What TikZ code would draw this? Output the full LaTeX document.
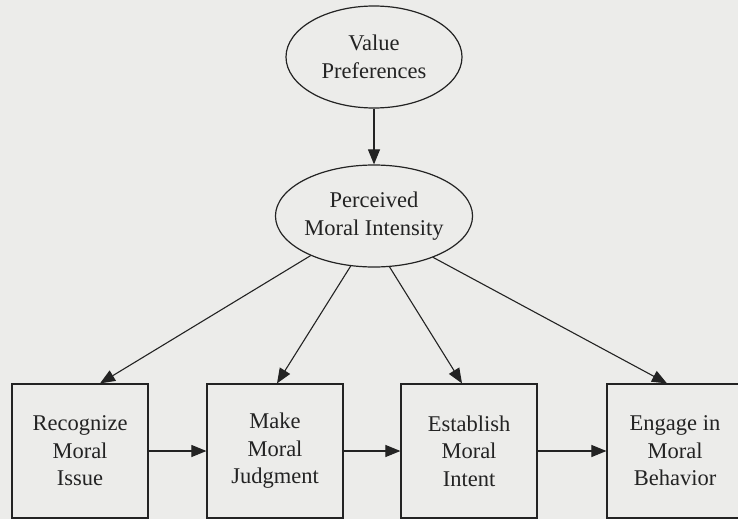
\documentclass[tikz,border=0pt]{standalone}
\usepackage{fontspec}
\setmainfont{Liberation Serif}
\usetikzlibrary{shapes.geometric,arrows.meta,calc}
\definecolor{bgpaper}{RGB}{236,236,234}
\definecolor{ink}{RGB}{35,35,35}
\begin{document}
\begin{tikzpicture}[x=1pt,y=-1pt,
  every node/.style={font=\fontsize{22.5}{27.5}\selectfont, text=ink, align=center},
  oval/.style={draw=ink, line width=1.2pt, ellipse, inner sep=0pt},
  stagebox/.style={draw=ink, line width=1.2pt, rectangle, minimum width=136pt, minimum height=134pt, inner sep=0pt},
  link/.style={draw=ink, line width=1.1pt, -{Triangle[length=15pt,width=12pt]}}
]
\fill[bgpaper] (0,0) rectangle (738,519);
\useasboundingbox (0,0) rectangle (738,519);
\clip (0,0) rectangle (738,519);

\node[oval, minimum width=176pt, minimum height=102pt] (vp) at (374,57) {Value\\Preferences};
\node[oval, minimum width=188pt, minimum height=102pt] (pmi) at (374,216) {Perceived\\Moral Intensity};

\node[stagebox] (b1) at (80,451) {Recognize\\Moral\\Issue};
\node[stagebox] (b2) at (275,451) {Make\\Moral\\Judgment};
\node[stagebox] (b3) at (469,451) {Establish\\Moral\\Intent};
\node[stagebox] (b4) at (675,451) {Engage in\\Moral\\Behavior};

\draw[link] (vp.south) -- (pmi.north);
\draw[link] (pmi.212) -- ($(b1.north)+(20,0)$);
\draw[link] (pmi.245) -- ($(b2.north)+(2,0)$);
\draw[link] (pmi.287) -- ($(b3.north)+(-7,0)$);
\draw[link] (pmi.325) -- ($(b4.north)+(-8,0)$);

\draw[link] (b1.east) -- (b2.west);
\draw[link] (b2.east) -- (b3.west);
\draw[link] (b3.east) -- (b4.west);
\end{tikzpicture}
\end{document}
